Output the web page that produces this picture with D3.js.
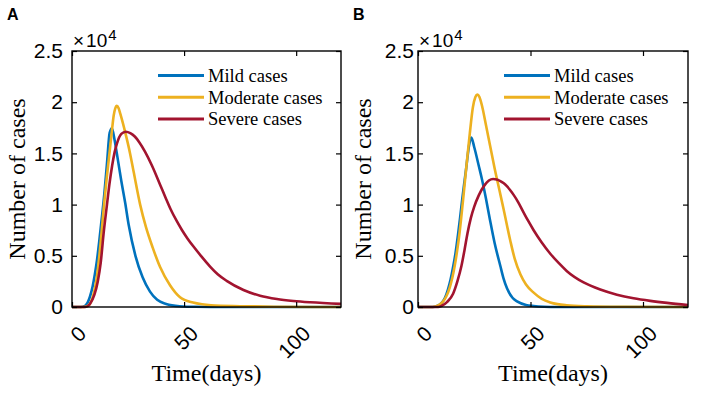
<!DOCTYPE html>
<html>
<head>
<meta charset="utf-8">
<script src="https://cdn.jsdelivr.net/npm/d3@7"></script>
<style>
  body { margin: 0; background: #fff; }
  svg { display: block; }
</style>
</head>
<body>
<div id="wrapper"></div>
<script>
// values: [day, number of cases]
const mildA = [[0,0],[4,0],[6,150],[8,1000],[9.2,2000],[10.2,3200],[11.1,4500],[12.2,6500],[13.2,8500],[14.4,11000],[15.6,14000],[16.8,17000],[17.8,17450],[19,16300],[20,15000],[22,12300],[23.7,10200],[25.3,8000],[28.3,5000],[31.5,2900],[34.8,1500],[38,700],[42,300],[48,80],[55,20],[70,0],[120,0]];
const moderateA = [[0,0],[5,0],[7,100],[8.5,500],[9.8,1400],[11,2800],[12.2,5000],[13.2,7300],[14.3,10000],[15.5,12600],[16.7,15000],[17.7,17000],[18.6,18700],[19.3,19400],[20,19650],[20.8,19400],[21.5,18900],[23.8,17000],[25.9,15000],[27.5,13200],[30.4,10000],[33,7800],[36,5800],[39.3,3900],[43.8,2100],[48.2,950],[54,430],[58,260],[62,170],[75,80],[90,30],[120,0]];
const severeA = [[0,0],[6,0],[8,300],[10,1200],[11.5,2500],[12.8,4300],[14.1,7200],[15.6,10000],[16.7,12000],[17.9,13800],[19,15100],[20.1,16000],[22,16900],[24,17120],[26,16980],[28,16650],[30,16100],[32.5,15200],[35.7,13800],[39.3,11950],[41.7,10700],[44,9550],[46.7,8400],[49.1,7500],[51.5,6700],[54.2,5900],[57.5,5000],[61.6,3950],[65,3200],[69,2550],[76.5,1660],[83.9,1100],[91.4,780],[98.8,590],[106.3,460],[120,300]];

const mildB = [[0,0],[6.5,0],[8.5,100],[10.5,400],[12,900],[13.3,1700],[14.5,2700],[15.6,3900],[16.7,5300],[17.8,7100],[18.7,8700],[19.6,10400],[20.5,12000],[21.5,13700],[22.7,15800],[23.7,16540],[25,15600],[27,13800],[28.5,12400],[30.2,10600],[32,8500],[34,6300],[36.6,4000],[38,2800],[39.6,1800],[42,900],[44,550],[48,200],[51.4,100],[56,30],[62,0],[120,0]];
const moderateB = [[0,0],[6.5,0],[9,150],[11,500],[12.5,1000],[14.1,1900],[15.2,2800],[16.3,4000],[17.4,5500],[18.5,7300],[20,10400],[21.5,13700],[23,16900],[24.4,19500],[25.5,20500],[26.4,20750],[27.3,20500],[28.5,19600],[30,18000],[32,15800],[34,13600],[36.3,11300],[38,9600],[41,6500],[43,4700],[45.5,3200],[48,2200],[51.4,1400],[55,800],[58.8,450],[62,280],[66,170],[75,70],[90,20],[120,0]];
const severeB = [[0,0],[9,0],[10.4,100],[13,500],[15.6,1300],[17.5,2500],[19.3,4000],[20.7,5600],[22,7200],[23.5,8700],[25,9800],[27,10900],[29.6,11900],[31.5,12350],[33.4,12500],[35,12450],[36.6,12300],[38,12100],[39.5,11800],[41,11400],[42.5,10950],[44.5,10250],[46.9,9250],[49,8400],[51.4,7500],[55,6300],[58.8,5200],[62.5,4300],[66.2,3500],[73.6,2400],[81,1700],[88.4,1200],[95.8,850],[103.2,600],[110.7,400],[120,200]];

const seriesNames = ["Mild cases", "Moderate cases", "Severe cases"];
const seriesColors = ["#0072BD", "#EDB120", "#A2142F"];
const xTicks = [0, 50, 100];
const yTicks = [0, 5000, 10000, 15000, 20000, 25000];

const width = 702, height = 397;
const svg = d3.select("#wrapper").append("svg")
    .attr("width", width)
    .attr("height", height);

const sansFont = "'Liberation Sans', Arial, sans-serif";
const serifFont = "'Liberation Serif', 'Times New Roman', serif";

function drawPanel(p) {
    const x = d3.scaleLinear().domain([0, 120]).range([p.left, p.right]);
    const y = d3.scaleLinear().domain([0, 25000]).range([p.bottom, p.top]);
    const g = svg.append("g");

    // panel letter
    g.append("text")
        .attr("x", p.left - 65)
        .attr("y", 20)
        .attr("font-family", sansFont)
        .attr("font-weight", "bold")
        .attr("font-size", 16)
        .text(p.letter);

    // curves
    const line = d3.line()
        .x(d => x(d[0]))
        .y(d => y(d[1]))
        .curve(d3.curveMonotoneX);
    p.series.forEach((s, i) => {
        g.append("path")
            .attr("d", line(s))
            .attr("fill", "none")
            .attr("stroke", seriesColors[i])
            .attr("stroke-width", 2.6);
    });

    // axes, ticks inside
    const yAxis = g.append("g")
        .attr("transform", `translate(${p.left},0)`)
        .call(d3.axisLeft(y).tickValues(yTicks).tickSizeInner(-5).tickSizeOuter(0)
            .tickPadding(p.yPad).tickFormat(d => d / 10000));
    yAxis.selectAll("text").attr("font-family", sansFont).attr("font-size", 21).attr("fill", "#000");

    g.append("g")
        .attr("transform", `translate(${p.right},0)`)
        .call(d3.axisRight(y).tickValues(yTicks).tickSizeInner(-5).tickSizeOuter(0).tickFormat(""));

    const xAxis = g.append("g")
        .attr("transform", `translate(0,${p.bottom})`)
        .call(d3.axisBottom(x).tickValues(xTicks).tickSizeInner(-5).tickSizeOuter(0));
    xAxis.selectAll("text")
        .attr("font-family", sansFont)
        .attr("font-size", 21)
        .attr("fill", "#000")
        .attr("text-anchor", "end")
        .attr("dy", null)
        .attr("y", null)
        .attr("transform", `translate(15,${335 - p.bottom}) rotate(-45)`);

    g.append("g")
        .attr("transform", `translate(0,${p.top})`)
        .call(d3.axisTop(x).tickValues(xTicks).tickSizeInner(-5).tickSizeOuter(0).tickFormat(""));

    g.selectAll(".domain").remove();
    g.selectAll(".tick line").attr("stroke", "#000").attr("stroke-width", 1.2);

    g.append("rect")
        .attr("x", p.left)
        .attr("y", p.top)
        .attr("width", p.right - p.left)
        .attr("height", p.bottom - p.top)
        .attr("fill", "none")
        .attr("stroke", "#000")
        .attr("stroke-width", 1.4);

    // exponent label
    const ex = g.append("text")
        .attr("x", p.left + 1)
        .attr("y", 47)
        .attr("font-family", sansFont)
        .attr("font-size", 19)
        .attr("fill", "#000");
    ex.append("tspan").text("\u00d7");
    ex.append("tspan").attr("dx", 2).text("10");
    ex.append("tspan").attr("font-size", 15).attr("dy", -7).attr("dx", 1).text("4");

    // legend
    seriesNames.forEach((name, i) => {
        const ly = 75.5 + i * 21.7;
        g.append("line")
            .attr("x1", p.left + 86).attr("x2", p.left + 132)
            .attr("y1", ly).attr("y2", ly)
            .attr("stroke", seriesColors[i])
            .attr("stroke-width", 3);
        g.append("text")
            .attr("x", p.left + 136)
            .attr("y", ly + 6.5)
            .attr("font-family", serifFont)
            .attr("font-size", 18.5)
            .attr("fill", "#000")
            .text(name);
    });

    // axis titles
    g.append("text")
        .attr("transform", `translate(${p.left - 47},${(p.top + p.bottom) / 2}) rotate(-90)`)
        .attr("text-anchor", "middle")
        .attr("font-family", serifFont)
        .attr("font-size", 24)
        .attr("fill", "#000")
        .text("Number of cases");

    g.append("text")
        .attr("x", (p.left + p.right) / 2)
        .attr("y", 381)
        .attr("text-anchor", "middle")
        .attr("font-family", serifFont)
        .attr("font-size", 24)
        .attr("fill", "#000")
        .text("Time(days)");
}

drawPanel({letter: "A", left: 72, right: 341, top: 51, bottom: 307, yPad: 9, series: [mildA, moderateA, severeA]});
drawPanel({letter: "B", left: 418, right: 688, top: 51, bottom: 307, yPad: 4, series: [mildB, moderateB, severeB]});
</script>
</body>
</html>
